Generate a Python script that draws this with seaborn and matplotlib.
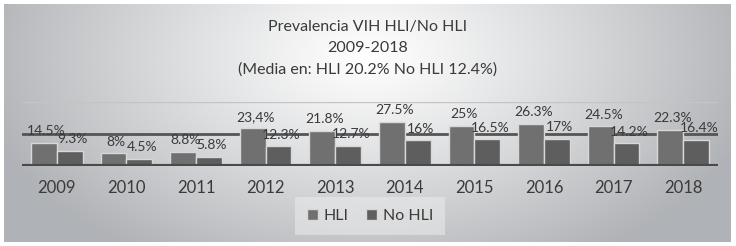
"""
Prevalencia VIH HLI / No HLI, 2009-2018 - grouped bar chart.
"""

import numpy as np
import pandas as pd
import matplotlib
matplotlib.use("Agg")
import matplotlib.pyplot as plt
import seaborn as sns

# data
years = ["2009", "2010", "2011", "2012", "2013", "2014", "2015", "2016", "2017", "2018"]
hli = [14.5, 8.0, 8.8, 23.4, 21.8, 27.5, 25.0, 26.3, 24.5, 22.3]
no_hli = [9.3, 4.5, 5.8, 12.3, 12.7, 16.0, 16.5, 17.0, 14.2, 16.4]
hli_labels = ["14.5%", "8%", "8.8%", "23,4%", "21.8%", "27.5%", "25%", "26.3%", "24.5%", "22.3%"]
no_hli_labels = ["9.3%", "4.5%", "5.8%", "12.3%", "12.7%", "16%", "16.5%", "17%", "14.2%", "16.4%"]
series = ["HLI", "No HLI"]
title_lines = ["Prevalencia VIH HLI/No HLI", "2009-2018", "(Media en: HLI 20.2% No HLI 12.4%)"]
gridlines = [20, 40]

df = pd.DataFrame({
    "year": years * 2,
    "value": hli + no_hli,
    "serie": [series[0]] * len(years) + [series[1]] * len(years),
})

sns.set_theme(style="white")
plt.rcParams["font.family"] = ["Lato", "DejaVu Sans"]

W, H = 736, 246
fig = plt.figure(figsize=(W / 100, H / 100), dpi=100)
fig.patch.set_facecolor("white")

# radial grey gradient background (the chart area frame)
bg = fig.add_axes([4 / W, 4 / H, 727 / W, 238 / H])
ny, nx = 240, 730
yy, xx = np.mgrid[0:1:ny * 1j, 0:1:nx * 1j]
dx = (xx - 0.5) / 0.55
dy = (yy - 0.22) / 1.0
r = np.clip(np.sqrt(dx ** 2 + dy ** 2), 0, 1) ** 1.1
edge = np.array([0.69, 0.70, 0.715])
img = (1 - r)[..., None] * np.ones(3) + r[..., None] * edge
bg.imshow(img, aspect="auto", extent=[0, 1, 0, 1], origin="upper")
bg.set_axis_off()

# title
ty = [1 - 27 / H, 1 - 48 / H, 1 - 70 / H]
for line, y in zip(title_lines, ty):
    fig.text(0.5, y, line, ha="center", va="center", fontsize=11.5, color="#3a3a3a")

ax = fig.add_axes([22 / W, 1 - 166 / H, 696 / W, 64.5 / H])
ax.set_facecolor("none")
sns.barplot(data=df, x="year", y="value", hue="serie", hue_order=series,
            palette=["#707070", "#5e5e5e"], width=0.74, ax=ax,
            edgecolor="#d8d8d8", linewidth=1.0, saturation=1, legend=True, zorder=3)

ax.set_ylim(0, 40)
ax.axhline(0, color="#4a4a4a", lw=3, zorder=4)
ax.axhline(gridlines[0], color="#555555", lw=2, zorder=1)
ax.axhline(gridlines[1], color="#c4c4c4", lw=1, zorder=1)

for cont, labs in zip(ax.containers, [hli_labels, no_hli_labels]):
    texts = ax.bar_label(cont, labels=labs, padding=4, fontsize=10,
                         color="#3a3a3a", zorder=5)
    for t in texts:
        t.xyann = (2, 4)

ax.set_yticks([])
ax.set_xlabel("")
ax.set_ylabel("")
ax.tick_params(axis="x", length=0, pad=10, labelsize=12, labelcolor="#3a3a3a")
for s in ax.spines.values():
    s.set_visible(False)

ax.legend(loc="center", bbox_to_anchor=(0.5, -0.78), ncol=2, frameon=True,
          fontsize=11.5, handlelength=0.7, handleheight=0.7, handletextpad=0.35,
          columnspacing=1.1, borderpad=0.75, borderaxespad=0, labelcolor="#3a3a3a",
          facecolor="#ececec", edgecolor="none", framealpha=0.55, fancybox=False)

fig.savefig("out.png", dpi=100)
